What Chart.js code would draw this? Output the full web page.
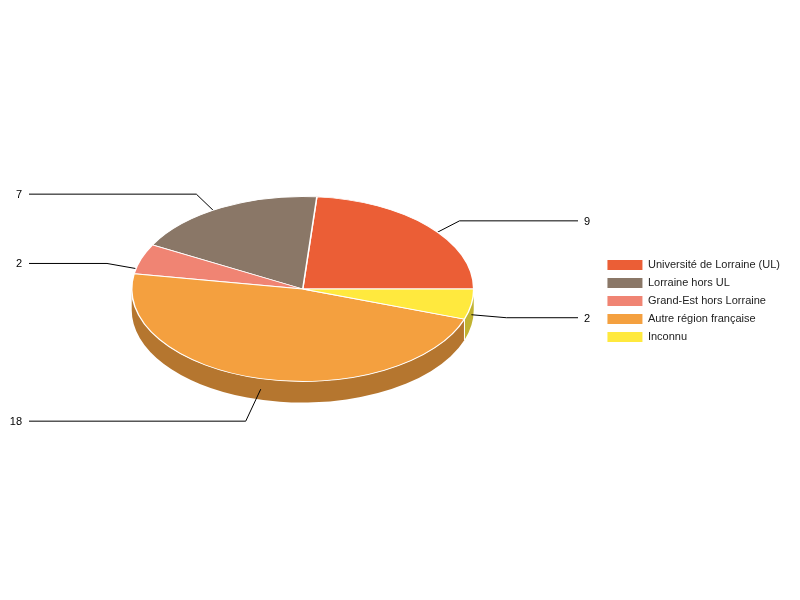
<!DOCTYPE html>
<html>
<head>
<meta charset="utf-8">
<title>Pie</title>
<script src="https://cdn.jsdelivr.net/npm/chart.js@4"></script>
<style>
    html, body { margin: 0; padding: 0; background: #fff; }
    canvas { display: block; }
</style>
</head>
<body>
<canvas id="pieChart" width="800" height="600"></canvas>
<script>
const categories = ["Université de Lorraine (UL)", "Lorraine hors UL", "Grand-Est hors Lorraine", "Autre région française", "Inconnu"];
const counts = [9, 7, 2, 18, 2];

const sliceColors = ["#eb5e36", "#8a7767", "#f08473", "#f4a03f", "#ffe93e"];
const wallColors = ["#b04628", "#67594d", "#b46356", "#b5762f", "#c2b331"];

// elbow of each leader line, relative to where it leaves the slice
const elbowOffsets = [[31, -16], [-25, -24], [-34, -6], [-15, 32], [35, 3]];

const centerY = 289;
const squash = 92.5 / 171;
const depth = 21;
const leftLineEnd = 29;
const rightLineEnd = 578;

// the pie is squashed and flipped so slices run counter-clockwise from 3 o'clock
const pie3d = {
    id: "pie3d",
    beforeDatasetsDraw(chart) {
        const ctx = chart.ctx;
        const arcs = chart.getDatasetMeta(0).data;

        arcs.forEach((arc, i) => {
            const start = Math.max(arc.startAngle, Math.PI);
            const end = Math.min(arc.endAngle, Math.PI * 2);
            if (end <= start) return;
            const rx = arc.outerRadius;
            const ry = rx * squash;
            ctx.beginPath();
            ctx.ellipse(arc.x, centerY, rx, ry, 0, -start, -end, true);
            ctx.ellipse(arc.x, centerY + depth, rx, ry, 0, -end, -start, false);
            ctx.closePath();
            ctx.fillStyle = wallColors[i];
            ctx.fill();
            // white seam between two walls
            if (start > Math.PI) {
                const seamX = arc.x + rx * Math.cos(start);
                const seamY = centerY - ry * Math.sin(start);
                ctx.beginPath();
                ctx.moveTo(seamX, seamY);
                ctx.lineTo(seamX, seamY + depth);
                ctx.strokeStyle = "#fff";
                ctx.lineWidth = 1;
                ctx.stroke();
            }
        });

        // leader lines go under the top of the pie but over the walls
        ctx.font = "11px 'Liberation Sans', Arial, sans-serif";
        ctx.textBaseline = "middle";
        arcs.forEach((arc, i) => {
            const mid = (arc.startAngle + arc.endAngle) / 2;
            const x = arc.x + arc.outerRadius * Math.cos(mid);
            const y = centerY - arc.outerRadius * squash * Math.sin(mid) + depth / 2;
            const elbowX = x + elbowOffsets[i][0];
            const elbowY = y + elbowOffsets[i][1];
            const onRight = Math.cos(mid) > 0;
            ctx.beginPath();
            ctx.moveTo(x, y);
            ctx.lineTo(elbowX, elbowY);
            ctx.lineTo(onRight ? rightLineEnd : leftLineEnd, elbowY);
            ctx.strokeStyle = "#000";
            ctx.lineWidth = 1;
            ctx.stroke();
            ctx.fillStyle = "#000";
            ctx.textAlign = onRight ? "left" : "right";
            ctx.fillText(String(counts[i]), onRight ? rightLineEnd + 6 : leftLineEnd - 7, elbowY + 1);
        });

        const cx = arcs[0].x;
        const cy = arcs[0].y;
        ctx.save();
        ctx.translate(cx, centerY);
        ctx.scale(1, -squash);
        ctx.translate(-cx, -cy);
    },
    afterDatasetsDraw(chart) {
        chart.ctx.restore();
    }
};

new Chart(document.getElementById("pieChart"), {
    type: "pie",
    data: {
        labels: categories,
        datasets: [{
            data: counts,
            backgroundColor: sliceColors,
            borderColor: "#fff",
            borderWidth: 1.5
        }]
    },
    options: {
        responsive: false,
        animation: false,
        rotation: 90,
        radius: 171,
        layout: { padding: { left: 5, right: 10, top: 2 } },
        plugins: {
            tooltip: { enabled: false },
            legend: {
                position: "right",
                labels: {
                    boxWidth: 35,
                    boxHeight: 10,
                    padding: 7,
                    color: "#222",
                    font: { family: "'Liberation Sans', Arial, sans-serif", size: 11 },
                    generateLabels(chart) {
                        // fill only, no white outline eating into the swatches
                        return Chart.overrides.pie.plugins.legend.labels.generateLabels(chart)
                            .map(item => ({ ...item, lineWidth: 0 }));
                    }
                }
            }
        }
    },
    plugins: [pie3d]
});
</script>
</body>
</html>
